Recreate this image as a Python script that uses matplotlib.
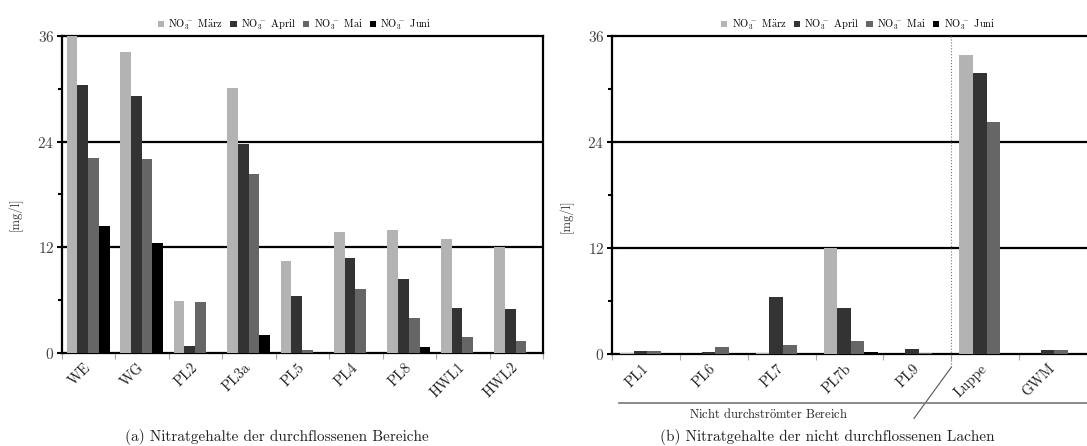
import numpy as np
import matplotlib
matplotlib.use("Agg")
import matplotlib.pyplot as plt
from matplotlib.ticker import MultipleLocator

plt.rcParams['font.family'] = ['cmr10', 'Liberation Serif']
plt.rcParams['mathtext.fontset'] = 'cm'
plt.rcParams['axes.formatter.use_mathtext'] = True

# data
months = [r'M$\ddot{\mathrm{a}}$rz', 'April', 'Mai', 'Juni']
colors = ['#b3b3b3', '#333333', '#666666', '#000000']

labels_a = ['WE', 'WG', 'PL2', 'PL3a', 'PL5', 'PL4', 'PL8', 'HWL1', 'HWL2']
maerz_a = [36.0, 34.2, 5.9, 30.1, 10.5, 13.7, 14.0, 12.9, 12.0]
april_a = [30.4, 29.2, 0.8, 23.7, 6.5, 10.8, 8.4, 5.1, 5.0]
mai_a = [22.2, 22.0, 5.8, 20.3, 0.3, 7.3, 4.0, 1.8, 1.4]
juni_a = [14.4, 12.5, 0.1, 2.1, 0.1, 0.1, 0.65, 0.1, 0.1]

labels_b = ['PL1', 'PL6', 'PL7', 'PL7b', 'PL9', 'Luppe', 'GWM']
maerz_b = [0.1, 0.05, 0.1, 12.0, 0.05, 33.9, 0.05]
april_b = [0.3, 0.2, 6.5, 5.2, 0.6, 31.8, 0.5]
mai_b = [0.3, 0.8, 1.0, 1.5, 0.1, 26.3, 0.4]
juni_b = [0.1, 0.1, 0.1, 0.2, 0.1, 0.0, 0.1]

W, H = 1087, 446
fig = plt.figure(figsize=(W / 100, H / 100), dpi=100)


def px_axes(x0, x1, ytop, ybot):
    return fig.add_axes([x0 / W, 1 - ybot / H, (x1 - x0) / W, (ybot - ytop) / H])


def draw(ax, labels, series, xmax, offset, legend_x):
    n = len(labels)
    x = np.arange(n)
    bw = 0.2
    for k, vals in enumerate(series):
        ax.bar(x + offset + k * bw, vals, bw, align='edge', color=colors[k],
               label=r'NO$_3^{\,-}$ ' + months[k], zorder=3, linewidth=0)
    ax.set_xlim(0, xmax)
    ax.set_ylim(0, 36)
    for g in (12, 24):
        ax.axhline(g, color='k', lw=1.6, zorder=1)
    ax.yaxis.set_major_locator(MultipleLocator(12))
    ax.yaxis.set_minor_locator(MultipleLocator(6))
    ax.tick_params(axis='y', which='major', direction='inout', length=7, width=1.5,
                   labelsize=11, labelcolor='#444444', pad=2)
    ax.tick_params(axis='y', which='minor', direction='out', length=3, width=1.5)
    ax.set_xticks(np.arange(n + 1))
    ax.set_xticklabels([])
    ax.tick_params(axis='x', which='major', direction='out', length=4, width=0.8,
                   color='#aaaaaa')
    ax.set_xticks(x + 0.5, labels, minor=True)
    ax.tick_params(axis='x', which='minor', length=0, labelsize=10.5, pad=9,
                   labelcolor='#222222')
    for t in ax.get_xticklabels(minor=True):
        t.set_rotation(45)
        t.set_ha('right')
        t.set_va('center')
        t.set_rotation_mode('anchor')
    for s in ax.spines.values():
        s.set_linewidth(1.6)
    ax.legend(loc='lower center', bbox_to_anchor=(legend_x, 0.995), ncol=4,
              frameon=False, fontsize=7.5, handlelength=0.6, handleheight=0.6,
              handletextpad=0.4, columnspacing=0.7, borderaxespad=0.1)


ax1 = px_axes(62, 543, 36, 353)
draw(ax1, labels_a, [maerz_a, april_a, mai_a, juni_a], 9, 0.09, 0.484)

ax2 = px_axes(612, 1087, 36, 354)
draw(ax2, labels_b, [maerz_b, april_b, mai_b, juni_b], 6.93, 0.12, 0.518)
ax2.spines['right'].set_visible(False)

# separator between the groups
ax2.plot([5, 5], [36, -1.5], color='#777777', lw=0.8, ls=':', clip_on=False, zorder=4)
ax2.plot([5, 4.45], [-1.5, -7.3], color='#555555', lw=0.8, clip_on=False)
ax2.plot([0.1, 7.2], [-5.5, -5.5], color='#777777', lw=1.2, clip_on=False)
ax2.text(2.3, -6.75, r'Nicht durchstr$\ddot{\mathrm{o}}$mter Bereich', ha='center',
         va='center', fontsize=9, color='#222222')

fig.text(15 / W, 1 - 214 / H, '[mg/l]', rotation=90, ha='center', va='center',
         fontsize=9, color='#333333')
fig.text(566 / W, 1 - 216 / H, '[mg/l]', rotation=90, ha='center', va='center',
         fontsize=9, color='#333333')

fig.text(277 / W, 1 - 437 / H, '(a) Nitratgehalte der durchflossenen Bereiche',
         ha='center', va='center', fontsize=11, color='#222222')
fig.text(827 / W, 1 - 437 / H, '(b) Nitratgehalte der nicht durchflossenen Lachen',
         ha='center', va='center', fontsize=11, color='#222222')

fig.savefig('out.png', dpi=100)
